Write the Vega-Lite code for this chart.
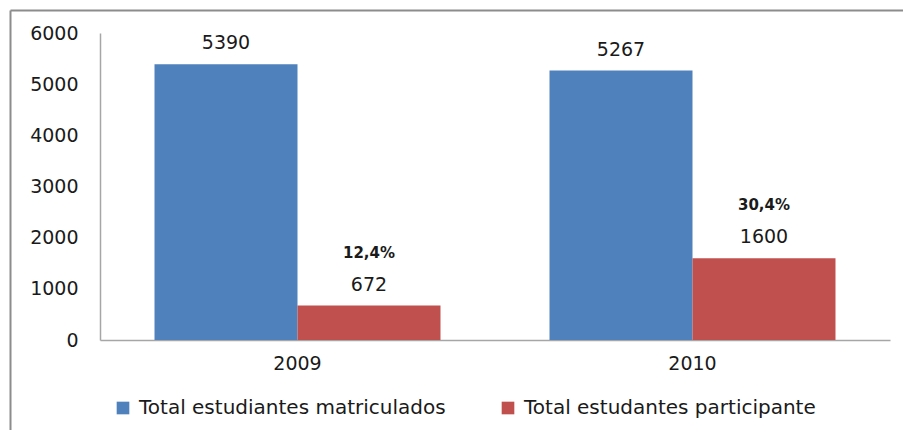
{
  "$schema": "https://vega.github.io/schema/vega-lite/v6.json",
  "width": 893,
  "height": 420,
  "autosize": {"type": "none"},
  "padding": {"left": 10, "top": 10, "right": 0, "bottom": 0},
  "background": "white",
  "config": {
    "font": "DejaVu Sans",
    "view": {"stroke": null}
  },
  "data": {
    "values": [
      {"year": "2009", "serie": "Total estudiantes matriculados", "value": 5390, "pct": ""},
      {"year": "2009", "serie": "Total estudantes participante", "value": 672, "pct": "12,4%"},
      {"year": "2010", "serie": "Total estudiantes matriculados", "value": 5267, "pct": ""},
      {"year": "2010", "serie": "Total estudantes participante", "value": 1600, "pct": "30,4%"}
    ]
  },
  "layer": [
    {
      "encoding": {
        "x": {
          "field": "year",
          "type": "nominal",
          "scale": {"range": [90, 880], "paddingInner": 0.276, "paddingOuter": 0.138},
          "axis": {
            "orient": "bottom",
            "offset": -90,
            "title": null,
            "labelAngle": 0,
            "ticks": false,
            "domainColor": "#a6a6a6",
            "domainWidth": 1.5,
            "labelFontSize": 19,
            "labelColor": "#1a1a1a",
            "labelPadding": 14
          }
        },
        "xOffset": {
          "field": "serie",
          "type": "nominal",
          "sort": ["Total estudiantes matriculados", "Total estudantes participante"]
        },
        "y": {
          "field": "value",
          "type": "quantitative",
          "scale": {"domain": [0, 6000], "range": [330, 23], "nice": false},
          "axis": {
            "orient": "left",
            "offset": -90,
            "title": null,
            "grid": false,
            "ticks": false,
            "values": [0, 1000, 2000, 3000, 4000, 5000, 6000],
            "format": "d",
            "domainColor": "#a6a6a6",
            "domainWidth": 1.5,
            "labelFontSize": 19,
            "labelColor": "#1a1a1a",
            "labelPadding": 22
          }
        }
      },
      "layer": [
        {
          "mark": {"type": "bar"},
          "encoding": {
            "color": {
              "field": "serie",
              "type": "nominal",
              "sort": ["Total estudiantes matriculados", "Total estudantes participante"],
              "scale": {"range": ["#4F81BD", "#C0504D"]},
              "legend": {
                "orient": "none",
                "legendX": 103,
                "legendY": 388,
                "direction": "horizontal",
                "title": null,
                "symbolType": "square",
                "symbolSize": 160,
                "symbolStrokeWidth": 0,
                "labelFontSize": 20,
                "labelColor": "#1a1a1a",
                "labelOffset": 6,
                "columnPadding": 52,
                "labelLimit": 400
              }
            }
          }
        },
        {
          "mark": {"type": "text", "dy": -21, "fontSize": 19, "color": "#1a1a1a", "baseline": "middle"},
          "encoding": {"text": {"field": "value", "type": "quantitative", "format": "d"}}
        },
        {
          "mark": {"type": "text", "dy": -53, "fontSize": 15, "fontWeight": "bold", "color": "#1a1a1a", "baseline": "middle"},
          "encoding": {"text": {"field": "pct", "type": "nominal"}}
        }
      ]
    },
    {
      "mark": {"type": "point", "opacity": 0, "size": 0},
      "encoding": {
        "x": {
          "field": "year",
          "type": "nominal",
          "scale": {"range": [0, 893]},
          "axis": {
            "orient": "top",
            "offset": 0,
            "title": null,
            "labels": false,
            "ticks": false,
            "grid": false,
            "domainColor": "#8c8c8c",
            "domainWidth": 2
          }
        },
        "y": {
          "field": "value",
          "type": "quantitative",
          "scale": {"domain": [0, 6000], "range": [420, 0], "nice": false},
          "axis": {
            "orient": "left",
            "offset": 0,
            "title": null,
            "labels": false,
            "ticks": false,
            "grid": false,
            "domainColor": "#8c8c8c",
            "domainWidth": 2
          }
        }
      }
    }
  ],
  "resolve": {"scale": {"x": "independent", "y": "independent"}}
}
